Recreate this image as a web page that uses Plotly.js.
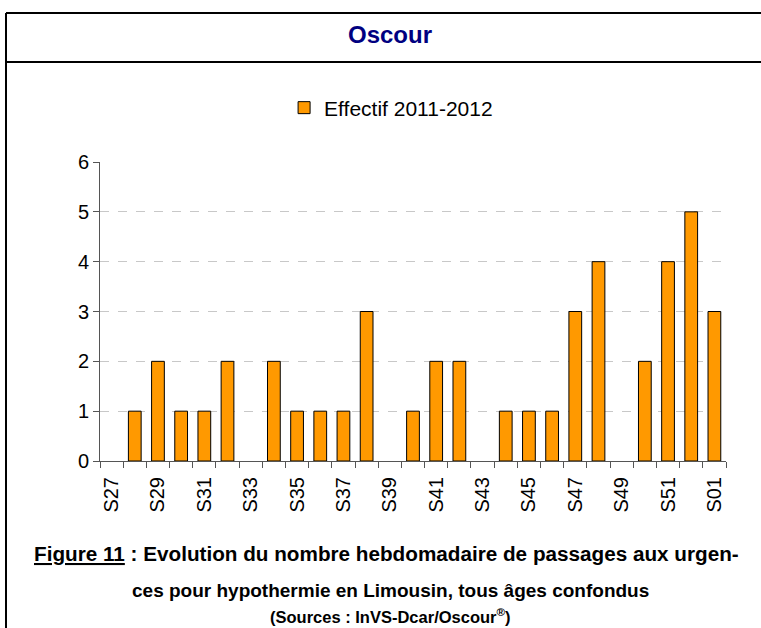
<!DOCTYPE html>
<html>
<head>
<meta charset="utf-8">
<script src="https://cdn.plot.ly/plotly-3.0.1.min.js"></script>
<style>
  html, body { margin: 0; padding: 0; background: #fff; }
  #chart { width: 761px; height: 628px; }
</style>
</head>
<body>
<div id="chart"></div>
<script>
// semaines S27 -> S01
const weeks = ["S27","S28","S29","S30","S31","S32","S33","S34","S35","S36","S37","S38","S39",
               "S40","S41","S42","S43","S44","S45","S46","S47","S48","S49","S50","S51","S52","S01"];
const effectif = [0,1,2,1,1,2,0,2,1,1,1,3,0,1,2,2,0,1,1,1,3,4,0,2,4,5,3];
// one label out of two
const weekLabels = weeks.map((w, i) => (i % 2 === 0 ? w : ""));

const capFont = "Liberation Sans, Arial, sans-serif";
const tickFont = "Arial, Liberation Sans, sans-serif";

const trace = {
    type: "bar",
    x: weeks,
    // empty weeks -> no bar drawn (no outline at 0)
    y: effectif.map(v => (v > 0 ? v : null)),
    name: "Effectif 2011-2012",
    width: 0.55,
    marker: { color: "#FF9900", line: { color: "#000", width: 1 } },
    hoverinfo: "x+y"
};

// pixel -> paper helpers
const px = v => (v - 100) / 626;
const py = v => (461 - v) / 299;

const layout = {
    width: 761,
    height: 628,
    margin: { l: 100, r: 35, t: 162, b: 167 },
    paper_bgcolor: "#fff",
    plot_bgcolor: "#fff",
    showlegend: true,
    legend: {
        orientation: "h",
        x: 0.465, xanchor: "center",
        y: py(108), yanchor: "middle",
        font: { family: tickFont, size: 21, color: "#000" }
    },
    xaxis: {
        type: "category",
        tickmode: "array",
        tickvals: weeks,
        ticktext: weekLabels,
        tickangle: -90,
        tickson: "boundaries",
        ticks: "outside",
        ticklen: 6,
        tickcolor: "#555",
        ticklabelstandoff: 7,
        showline: true,
        linecolor: "#555",
        showgrid: false,
        tickfont: { family: tickFont, size: 20, color: "#000" }
    },
    yaxis: {
        range: [0, 6],
        dtick: 1,
        ticks: "outside",
        ticklen: 6,
        tickcolor: "#555",
        showline: true,
        linecolor: "#555",
        gridcolor: "#c8c8c8",
        griddash: "dash",
        zeroline: false,
        tickfont: { family: tickFont, size: 20, color: "#000" }
    },
    shapes: [
        { type: "line", xref: "paper", yref: "paper", x0: px(6), x1: px(6), y0: py(13), y1: py(640), line: { color: "#000", width: 2 } },
        { type: "line", xref: "paper", yref: "paper", x0: px(6), x1: px(770), y0: py(13), y1: py(13), line: { color: "#000", width: 2 } },
        { type: "line", xref: "paper", yref: "paper", x0: px(6), x1: px(770), y0: py(62), y1: py(62), line: { color: "#000", width: 2 } }
    ],
    annotations: [
        { xref: "paper", yref: "paper", x: px(390), y: py(34), xanchor: "center", yanchor: "middle", showarrow: false,
          text: "<b>Oscour</b>", font: { family: capFont, size: 24, color: "#000080" } },
        { xref: "paper", yref: "paper", x: px(386), y: py(553), xanchor: "center", yanchor: "middle", showarrow: false,
          text: "<b><u>Figure 11</u> : Evolution du nombre hebdomadaire de passages aux urgen-</b>",
          font: { family: capFont, size: 20.7, color: "#000" } },
        { xref: "paper", yref: "paper", x: px(390), y: py(590), xanchor: "center", yanchor: "middle", showarrow: false,
          text: "<b>ces pour hypothermie en Limousin, tous âges confondus</b>",
          font: { family: capFont, size: 19, color: "#000" } },
        { xref: "paper", yref: "paper", x: px(390), y: py(616), xanchor: "center", yanchor: "middle", showarrow: false,
          text: "<b>(Sources : InVS-Dcar/Oscour<sup>®</sup>)</b>",
          font: { family: capFont, size: 16.5, color: "#000" } }
    ]
};

Plotly.newPlot("chart", [trace], layout, { displayModeBar: false, staticPlot: true });
</script>
</body>
</html>
